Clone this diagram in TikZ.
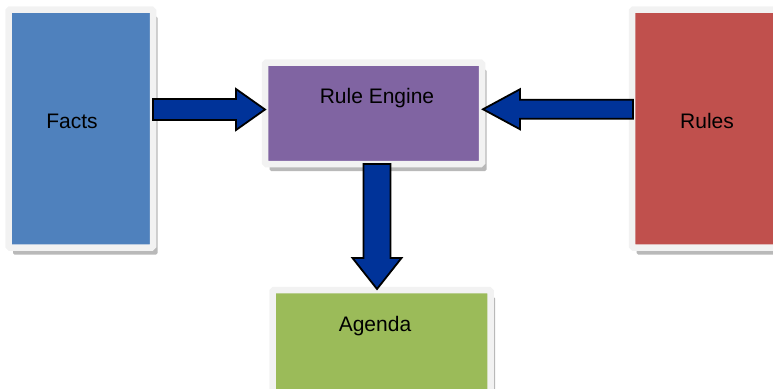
\documentclass[tikz,border=0pt]{standalone}
\usepackage{fontspec}
\setmainfont{Liberation Sans}
\usetikzlibrary{calc,shadows}
\definecolor{factsblue}{HTML}{4F81BD}
\definecolor{enginepurple}{HTML}{8064A2}
\definecolor{rulesred}{HTML}{C0504D}
\definecolor{agendagreen}{HTML}{9BBB59}
\definecolor{framegray}{HTML}{F2F2F2}
\definecolor{arrowblue}{RGB}{0,51,153}
\tikzset{
  box/.style={rectangle, draw=framegray, line width=6.5pt, inner sep=0pt, outer sep=0pt,
    anchor=north west, rounded corners=1.5pt,
    drop shadow={shadow xshift=4.5pt, shadow yshift=-7pt, fill=gray!55, opacity=1}},
  lbl/.style={font=\fontsize{21}{24}\selectfont, text=black, inner sep=0pt},
  blockarrow/.style={fill=arrowblue, draw=black, line width=1.8pt, line join=miter}
}
\begin{document}
\begin{tikzpicture}[x=1pt,y=-1pt]
\useasboundingbox (0,0) rectangle (773,388);
\clip (0,0) rectangle (773,388);
\node[box, fill=factsblue, minimum width=144.5pt, minimum height=238pt] (facts) at (8.5,9.5) {};
\node[box, fill=enginepurple, minimum width=217pt, minimum height=101.5pt] (engine) at (265,62.5) {};
\node[box, fill=rulesred, minimum width=170pt, minimum height=238pt] (rules) at (632,9.5) {};
\node[box, fill=agendagreen, minimum width=218pt, minimum height=120pt] (agenda) at (272.5,290) {};
\node[lbl] (factsT) at (72,121) {Facts};
\node[lbl] (engineT) at (377,98) {Rule Engine};
\node[lbl] (rulesT) at (707,121) {Rules};
\node[lbl] (agendaT) at (375,326) {Agenda};
\coordinate (ltip) at ($(engine.west)+(0,-3.75)$);
\coordinate (rtip) at ($(engine.east)+(1,-4)$);
\coordinate (dtip) at ($(agenda.north)+(-4.5,-1)$);
% Facts -> Rule Engine
\draw[blockarrow] let \p1=(facts.east), \p2=(ltip) in
  (\x1,\y2+10.5pt) -- (\x2-29pt,\y2+10.5pt) -- (\x2-29pt,\y2+20.5pt) -- (\p2)
  -- (\x2-29pt,\y2-20.5pt) -- (\x2-29pt,\y2-10.5pt) -- (\x1,\y2-10.5pt) -- cycle;
% Rules -> Rule Engine
\draw[blockarrow] let \p1=(rules.west), \p2=(rtip) in
  (\x1+1pt,\y2+9.5pt) -- (\x2+37pt,\y2+9.5pt) -- (\x2+37pt,\y2+20pt) -- (\p2)
  -- (\x2+37pt,\y2-20pt) -- (\x2+37pt,\y2-9.5pt) -- (\x1+1pt,\y2-9.5pt) -- cycle;
% Rule Engine -> Agenda
\draw[blockarrow] let \p1=(engine.south), \p2=(dtip) in
  (\x2-13.5pt,\y1) -- (\x2-13.5pt,\y2+31pt) -- (\x2-24.5pt,\y2+31pt) -- (\p2)
  -- (\x2+24.5pt,\y2+31pt) -- (\x2+13.5pt,\y2+31pt) -- (\x2+13.5pt,\y1) -- cycle;
\end{tikzpicture}
\end{document}
